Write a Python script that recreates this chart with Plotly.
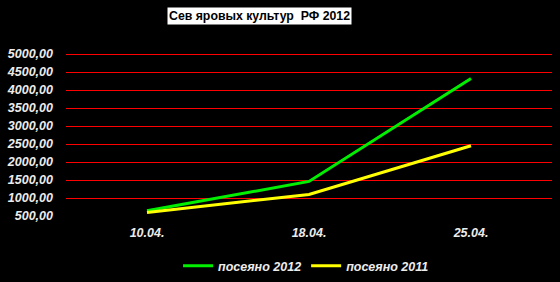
import plotly.graph_objects as go

dates = ["10.04.", "18.04.", "25.04."]
sown_2012 = [645, 1460, 4320]
sown_2011 = [600, 1100, 2450]
series_names = ["посеяно 2012", "посеяно 2011"]
title_text = "Сев яровых культур  РФ 2012"

FONT = "Liberation Sans, Arial, sans-serif"
lbl = dict(family=FONT, size=12.5, color="#ececec", weight="bold", style="italic")

fig = go.Figure()
fig.add_trace(go.Scatter(x=dates, y=sown_2012, name=series_names[0], mode="lines",
                         line=dict(color="#00f000", width=3)))
fig.add_trace(go.Scatter(x=dates, y=sown_2011, name=series_names[1], mode="lines",
                         line=dict(color="#ffff00", width=3)))

fig.update_layout(
    width=560, height=282,
    paper_bgcolor="black", plot_bgcolor="black",
    margin=dict(l=66, r=8, t=50, b=66, autoexpand=False),
    separators=", ",
    showlegend=True,
    legend=dict(orientation="h", x=0.494, xanchor="center", yref="container",
                y=0.056, yanchor="middle",
                font=lbl, bgcolor="rgba(0,0,0,0)", itemwidth=30, tracegroupgap=0),
    xaxis=dict(type="category", range=[-0.5, 2.5], showgrid=False, zeroline=False,
               showline=False, tickfont=lbl, ticks="", ticklabelstandoff=7),
    yaxis=dict(range=[500, 5111.11], dtick=500, tick0=500, tickformat=".2f",
               gridcolor="#ff0000", gridwidth=1, zeroline=False, showline=False,
               tickfont=lbl, ticks="", ticklabelstandoff=12),
    annotations=[dict(text="<b>" + title_text + "</b>", xref="paper", yref="paper",
                      x=0.5, y=1, xanchor="center", yanchor="middle",
                      xshift=-50, yshift=34.5, showarrow=False,
                      font=dict(family=FONT, size=12.3, color="black"),
                      bgcolor="white", borderpad=1)],
)
fig.write_html("out.html")
